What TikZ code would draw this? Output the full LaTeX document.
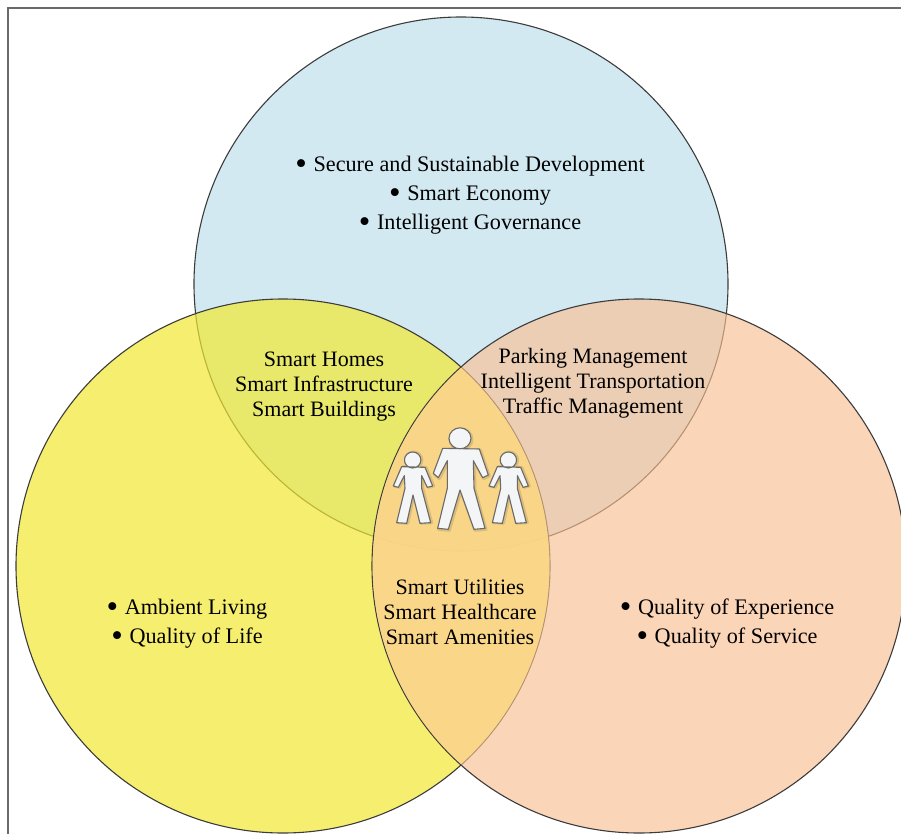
\documentclass[tikz,border=0pt]{standalone}
\usepackage{fontspec}
\setmainfont{Liberation Serif}
\definecolor{cblue}{HTML}{D3E9F1}
\definecolor{cyellow}{HTML}{F1E833}
\definecolor{cpeach}{HTML}{F9C092}
\definecolor{ccore}{HTML}{FBD88A}
\definecolor{cline}{HTML}{3C3C3C}
\definecolor{cframe}{HTML}{6A6A6A}
\definecolor{cman}{HTML}{F4F5F6}
\tikzset{
  x=1pt,y=-1pt,
  ring/.style={draw=cline,line width=1.1pt,circle,minimum size=534pt,inner sep=0pt,outer sep=0pt},
  wide/.style={font=\fontsize{22.2}{29}\selectfont,align=center,text=black,inner sep=0pt},
  tight/.style={font=\fontsize{22}{25}\selectfont,align=center,text=black,inner sep=0pt},
  person/.style={fill=cman,draw=cframe,line width=1.1pt,line join=round},
  halo/.style={draw=black,draw opacity=.12,line width=3pt,line join=round},
  framing/.style={draw=cframe,line width=1.3pt}
}
\newcommand{\bul}{\raisebox{-0.13em}{\fontsize{33}{29}\selectfont •}\hspace{0.3em}}
\newcommand{\bigman}[1]{%
  \path[#1,xshift=370pt,yshift=-410pt,x=0.3333pt,y=-0.3333pt]
    (270,85) ellipse [x radius=11pt,y radius=10.5pt]
    (218,115) -- (328,117) -- (355,195) -- (338,203) -- (310,152) -- (312,235)
    -- (345,355) -- (312,358) -- (270,240) -- (235,358) -- (203,355) -- (232,235)
    -- (232,152) -- (205,203) -- (190,190) -- cycle;}
\newcommand{\smallman}[2]{%
  \path[#1,xshift=#2,yshift=-410pt,x=0.3333pt,y=-0.3333pt]
    (128,150) ellipse [x radius=8.2pt,y radius=8pt]
    (95,170) -- (165,172) -- (188,228) -- (172,232) -- (155,197) -- (155,235)
    -- (182,338) -- (150,340) -- (129,255) -- (110,340) -- (80,338) -- (105,235)
    -- (103,197) -- (85,232) -- (70,228) -- cycle;}
\begin{document}
\begin{tikzpicture}
\useasboundingbox (0,0) rectangle (901,834);
\fill[white] (0,0) rectangle (901,834);
\coordinate (fa) at (8,834);
\coordinate (fb) at (8,8);
\coordinate (fc) at (901,8);
\draw[framing] (fa) -- (fb) -- (fc);
\begin{scope}
\clip (0,0) rectangle (901,834);
\node[ring,fill=cblue] (top) at (461,284) {};
\node[ring,fill=cyellow,fill opacity=.7,draw opacity=1] (left) at (283,566) {};
\node[ring,fill=cpeach,fill opacity=.65,draw opacity=1] (right) at (639,566) {};
\begin{scope}
\clip (283,566) circle [radius=266.4pt];
\clip (639,566) circle [radius=266.4pt];
\fill[ccore,opacity=.8] (300,290) rectangle (600,780);
\end{scope}
\end{scope}
\bigman{halo,xshift=1pt,yshift=-1pt}
\smallman{halo}{371pt}
\smallman{halo}{466.7pt}
\bigman{person}
\smallman{person}{370pt}
\smallman{person}{465.7pt}
\node[wide] (t1) at (470,195) {\bul Secure and Sustainable Development\\\bul Smart Economy\\\bul Intelligent Governance};
\node[tight] (t2) at (324,387) {Smart Homes\\Smart Infrastructure\\Smart Buildings};
\node[tight] (t3) at (593,383) {Parking Management\\Intelligent Transportation\\Traffic Management};
\node[tight] (t4) at (460,612) {Smart Utilities\\Smart Healthcare\\Smart Amenities};
\node[wide] (t5) at (187,624) {\bul Ambient Living\\\bul Quality of Life};
\node[wide] (t6) at (727,624) {\bul Quality of Experience\\\bul Quality of Service};
\end{tikzpicture}
\end{document}
